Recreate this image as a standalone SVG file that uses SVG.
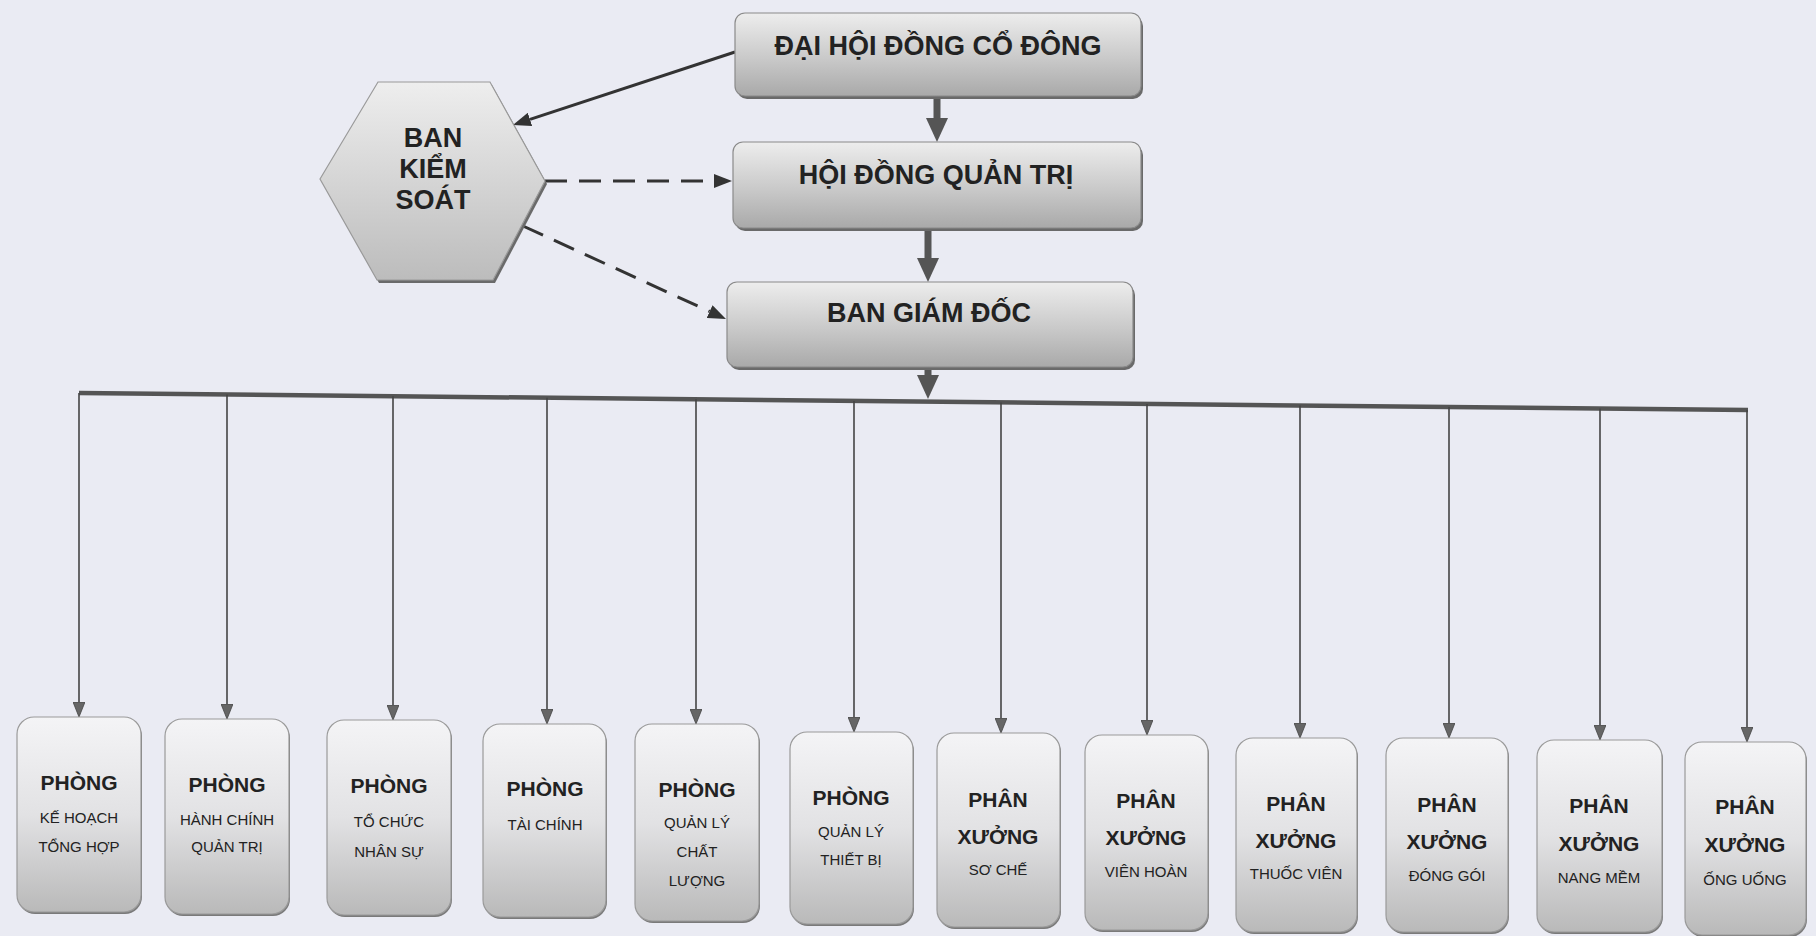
<svg xmlns="http://www.w3.org/2000/svg" width="1816" height="936" viewBox="0 0 1816 936">
<style>
.t1{font-family:"Liberation Sans",Arial,sans-serif;font-weight:bold;font-size:27px;fill:#222;text-anchor:middle}
.hx{font-family:"Liberation Sans",Arial,sans-serif;font-weight:bold;font-size:27px;fill:#222;text-anchor:middle}
.h{font-family:"Liberation Sans",Arial,sans-serif;font-weight:bold;font-size:21px;fill:#222;text-anchor:middle}
.s{font-family:"Liberation Sans",Arial,sans-serif;font-size:15px;fill:#222;text-anchor:middle}
.top{fill:url(#gTop);stroke:#8a8a8a;stroke-width:1.2}
.sh{fill:#6a6a6a}
.bot{fill:url(#gBot);stroke:#9a9a9a;stroke-width:1.2}
.bsh{fill:#7a7a7a}
.thick{stroke:#555;stroke-width:7;fill:none;marker-end:url(#mBig)}
.solid{stroke:#333;stroke-width:3;fill:none;marker-end:url(#mMed)}
.dash{stroke:#333;stroke-width:3;fill:none;stroke-dasharray:22 12;marker-end:url(#mMed)}
.drop{stroke:#444;stroke-width:1.6;fill:none;marker-end:url(#mSmall)}
</style>
<defs>
<linearGradient id="gTop" x1="0" y1="0" x2="0" y2="1">
<stop offset="0" stop-color="#ededed"/>
<stop offset="0.55" stop-color="#c9c9c9"/>
<stop offset="1" stop-color="#a9a9a9"/>
</linearGradient>
<linearGradient id="gHex" x1="0" y1="0" x2="0" y2="1">
<stop offset="0" stop-color="#eeeeee"/>
<stop offset="1" stop-color="#bcbcbc"/>
</linearGradient>
<linearGradient id="gBot" x1="0" y1="0" x2="0" y2="1">
<stop offset="0" stop-color="#f4f4f6"/>
<stop offset="0.5" stop-color="#e2e2e4"/>
<stop offset="1" stop-color="#b9b9b9"/>
</linearGradient>
<marker id="mBig" markerUnits="userSpaceOnUse" markerWidth="24" markerHeight="22" viewBox="0 0 24 22" refX="0" refY="11" orient="auto">
<path d="M0,0 L24,11 L0,22 Z" fill="#555"/>
</marker>
<marker id="mMed" markerUnits="userSpaceOnUse" markerWidth="18" markerHeight="14" viewBox="0 0 18 14" refX="0" refY="7" orient="auto">
<path d="M0,0 L18,7 L0,14 Z" fill="#333"/>
</marker>
<marker id="mSmall" markerUnits="userSpaceOnUse" markerWidth="15" markerHeight="12" viewBox="0 0 15 12" refX="0" refY="6" orient="auto">
<path d="M0,0 L15,6 L0,12 Z" fill="#666" stroke="#444" stroke-width="0.8"/>
</marker>
</defs>
<rect x="0" y="0" width="1816" height="936" fill="#eaebf3"/>

<g id="connectors">
<line class="solid" x1="735" y1="52" x2="530" y2="119.4"/>
<line class="dash" x1="545" y1="181" x2="714" y2="181"/>
<line class="dash" x1="523" y1="226" x2="709.6" y2="311.5"/>
<line class="thick" x1="937" y1="97" x2="937" y2="118"/>
<line class="thick" x1="928" y1="228" x2="928" y2="258"/>
<line class="thick" x1="928" y1="367" x2="928" y2="375"/>
<line x1="79" y1="393" x2="1748" y2="410" stroke="#555" stroke-width="4.5"/>
<line class="drop" x1="79" y1="393" x2="79" y2="702"/>
<line class="drop" x1="227" y1="394.5" x2="227" y2="704"/>
<line class="drop" x1="393" y1="396.2" x2="393" y2="705"/>
<line class="drop" x1="547" y1="397.8" x2="547" y2="709"/>
<line class="drop" x1="696" y1="399.3" x2="696" y2="709"/>
<line class="drop" x1="854" y1="400.9" x2="854" y2="717"/>
<line class="drop" x1="1001" y1="402.4" x2="1001" y2="718"/>
<line class="drop" x1="1147" y1="403.9" x2="1147" y2="720"/>
<line class="drop" x1="1300" y1="405.4" x2="1300" y2="723"/>
<line class="drop" x1="1449" y1="407" x2="1449" y2="723"/>
<line class="drop" x1="1600" y1="408.5" x2="1600" y2="725"/>
<line class="drop" x1="1747" y1="410" x2="1747" y2="727" stroke-width="3"/>
</g>

<g id="n-dhdcd">
<rect class="sh" x="737" y="16" width="406" height="83" rx="10"/>
<rect class="top" x="735" y="13" width="406" height="83" rx="10"/>
<text class="t1" x="938" y="55">ĐẠI HỘI ĐỒNG CỔ ĐÔNG</text>
</g>
<g id="n-hdqt">
<rect class="sh" x="735" y="145" width="408" height="86" rx="10"/>
<rect class="top" x="733" y="142" width="408" height="86" rx="10"/>
<text class="t1" x="936" y="184">HỘI ĐỒNG QUẢN TRỊ</text>
</g>
<g id="n-bgd">
<rect class="sh" x="729" y="285" width="406" height="85" rx="10"/>
<rect class="top" x="727" y="282" width="406" height="85" rx="10"/>
<text class="t1" x="929" y="322">BAN GIÁM ĐỐC</text>
</g>
<g id="n-bks">
<polygon points="322,182 380,85 492,85 547,184 495,283 379,283" fill="#6a6a6a"/>
<polygon points="320,179 378,82 490,82 545,181 493,280 377,280" fill="url(#gHex)" stroke="#9a9a9a" stroke-width="1.2"/>
<text class="hx" x="433" y="147">BAN</text>
<text class="hx" x="433" y="178">KIỂM</text>
<text class="hx" x="433" y="209">SOÁT</text>
</g>

<g id="n-p1">
<rect class="bsh" x="18" y="719" width="124" height="195" rx="17"/>
<rect class="bot" x="17" y="717" width="124" height="195" rx="17"/>
<text class="h" x="79" y="790">PHÒNG</text>
<text class="s" x="79" y="823">KẾ HOẠCH</text>
<text class="s" x="79" y="852">TỔNG HỢP</text>
</g>
<g id="n-p2">
<rect class="bsh" x="166" y="721" width="124" height="195" rx="17"/>
<rect class="bot" x="165" y="719" width="124" height="195" rx="17"/>
<text class="h" x="227" y="792">PHÒNG</text>
<text class="s" x="227" y="825">HÀNH CHÍNH</text>
<text class="s" x="227" y="852">QUẢN TRỊ</text>
</g>
<g id="n-p3">
<rect class="bsh" x="328" y="722" width="124" height="195" rx="17"/>
<rect class="bot" x="327" y="720" width="124" height="195" rx="17"/>
<text class="h" x="389" y="793">PHÒNG</text>
<text class="s" x="389" y="827">TỔ CHỨC</text>
<text class="s" x="389" y="857">NHÂN SỰ</text>
</g>
<g id="n-p4">
<rect class="bsh" x="484" y="726" width="123" height="193" rx="17"/>
<rect class="bot" x="483" y="724" width="123" height="193" rx="17"/>
<text class="h" x="545" y="796">PHÒNG</text>
<text class="s" x="545" y="830">TÀI CHÍNH</text>
</g>
<g id="n-p5">
<rect class="bsh" x="636" y="726" width="124" height="197" rx="17"/>
<rect class="bot" x="635" y="724" width="124" height="197" rx="17"/>
<text class="h" x="697" y="797">PHÒNG</text>
<text class="s" x="697" y="828">QUẢN LÝ</text>
<text class="s" x="697" y="857">CHẤT</text>
<text class="s" x="697" y="886">LƯỢNG</text>
</g>
<g id="n-p6">
<rect class="bsh" x="791" y="734" width="123" height="192" rx="17"/>
<rect class="bot" x="790" y="732" width="123" height="192" rx="17"/>
<text class="h" x="851" y="805">PHÒNG</text>
<text class="s" x="851" y="837">QUẢN LÝ</text>
<text class="s" x="851" y="865">THIẾT BỊ</text>
</g>
<g id="n-x1">
<rect class="bsh" x="938" y="735" width="123" height="194" rx="17"/>
<rect class="bot" x="937" y="733" width="123" height="194" rx="17"/>
<text class="h" x="998" y="807">PHÂN</text>
<text class="h" x="998" y="844">XƯỞNG</text>
<text class="s" x="998" y="875">SƠ CHẾ</text>
</g>
<g id="n-x2">
<rect class="bsh" x="1086" y="737" width="123" height="195" rx="17"/>
<rect class="bot" x="1085" y="735" width="123" height="195" rx="17"/>
<text class="h" x="1146" y="808">PHÂN</text>
<text class="h" x="1146" y="845">XƯỞNG</text>
<text class="s" x="1146" y="877">VIÊN HOÀN</text>
</g>
<g id="n-x3">
<rect class="bsh" x="1237" y="740" width="121" height="194" rx="17"/>
<rect class="bot" x="1236" y="738" width="121" height="194" rx="17"/>
<text class="h" x="1296" y="811">PHÂN</text>
<text class="h" x="1296" y="848">XƯỞNG</text>
<text class="s" x="1296" y="879">THUỐC VIÊN</text>
</g>
<g id="n-x4">
<rect class="bsh" x="1387" y="740" width="122" height="194" rx="17"/>
<rect class="bot" x="1386" y="738" width="122" height="194" rx="17"/>
<text class="h" x="1447" y="812">PHÂN</text>
<text class="h" x="1447" y="849">XƯỞNG</text>
<text class="s" x="1447" y="881">ĐÓNG GÓI</text>
</g>
<g id="n-x5">
<rect class="bsh" x="1538" y="742" width="125" height="192" rx="17"/>
<rect class="bot" x="1537" y="740" width="125" height="192" rx="17"/>
<text class="h" x="1599" y="813">PHÂN</text>
<text class="h" x="1599" y="851">XƯỞNG</text>
<text class="s" x="1599" y="883">NANG MỀM</text>
</g>
<g id="n-x6">
<rect class="bsh" x="1686" y="744" width="121" height="193" rx="17"/>
<rect class="bot" x="1685" y="742" width="121" height="193" rx="17"/>
<text class="h" x="1745" y="814">PHÂN</text>
<text class="h" x="1745" y="852">XƯỞNG</text>
<text class="s" x="1745" y="885">ỐNG UỐNG</text>
</g>
</svg>
